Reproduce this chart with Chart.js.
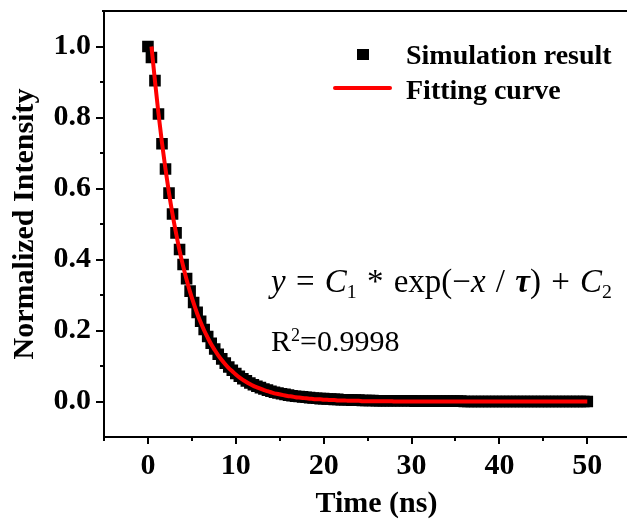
<!DOCTYPE html>
<html lang="en">
<head>
  <meta charset="UTF-8">
  <title>Decay fit</title>
  <script src="https://cdn.jsdelivr.net/npm/chart.js"></script>
  <style>
    body {
      margin: 0;
      padding: 0;
      background: #fff;
      overflow: hidden;
    }

    /* wider than the window on purpose: the plot frame runs off the right edge */
    .wrap {
      position: relative;
      width: 657px;
      height: 522px;
    }

    .serif {
      position: absolute;
      font-family: 'Liberation Serif', 'Times New Roman', serif;
      color: #000;
      white-space: pre;
      line-height: 1;
    }

    .legend-text {
      font-weight: bold;
      font-size: 28px;
    }

    .sub, .sup {
      position: relative;
      font-size: 0.6em;
      line-height: 0;
    }
    .sub { top: 0.3em; }
    .sup { top: -0.55em; }

    /* top edge of the plot frame */
    #frameTop {
      position: absolute;
      left: 102px;
      top: 10px;
      width: 555px;
      height: 2px;
      background: #000;
    }

    #legSquare {
      position: absolute;
      left: 357px;
      top: 49px;
      width: 12px;
      height: 11px;
      background: #000;
    }

    #legLine {
      position: absolute;
      left: 333px;
      top: 86px;
      width: 59px;
      height: 4px;
      border-radius: 2px;
      background: #ff0000;
    }
  </style>
</head>

<body>
  <div class="wrap">
    <canvas id="decayChart"></canvas>
    <div id="frameTop"></div>

    <!-- legend -->
    <div id="legSquare"></div>
    <div class="serif legend-text" style="left:406px; top:41px;">Simulation result</div>
    <div id="legLine"></div>
    <div class="serif legend-text" style="left:406px; top:76px;">Fitting curve</div>

    <!-- fit equation -->
    <div class="serif" style="left:271px; top:265px; font-size:33px; word-spacing:2px;"><i>y</i> = <i>C</i><span class="sub">1</span> * exp(−<i>x</i> / <b><i>τ</i></b>) + <i>C</i><span class="sub">2</span></div>
    <div class="serif" style="left:271px; top:326px; font-size:30px;">R<span class="sup">2</span>=0.9998</div>
  </div>

  <script>
    // time axis (ns), sampled every 0.4 ns
    const timeNs = [
      0, 0.4, 0.8, 1.2, 1.6, 2, 2.4, 2.8, 3.2, 3.6,
      4, 4.4, 4.8, 5.2, 5.6, 6, 6.4, 6.8, 7.2, 7.6,
      8, 8.4, 8.8, 9.2, 9.6, 10, 10.4, 10.8, 11.2, 11.6,
      12, 12.4, 12.8, 13.2, 13.6, 14, 14.4, 14.8, 15.2, 15.6,
      16, 16.4, 16.8, 17.2, 17.6, 18, 18.4, 18.8, 19.2, 19.6,
      20, 20.4, 20.8, 21.2, 21.6, 22, 22.4, 22.8, 23.2, 23.6,
      24, 24.4, 24.8, 25.2, 25.6, 26, 26.4, 26.8, 27.2, 27.6,
      28, 28.4, 28.8, 29.2, 29.6, 30, 30.4, 30.8, 31.2, 31.6,
      32, 32.4, 32.8, 33.2, 33.6, 34, 34.4, 34.8, 35.2, 35.6,
      36, 36.4, 36.8, 37.2, 37.6, 38, 38.4, 38.8, 39.2, 39.6,
      40, 40.4, 40.8, 41.2, 41.6, 42, 42.4, 42.8, 43.2, 43.6,
      44, 44.4, 44.8, 45.2, 45.6, 46, 46.4, 46.8, 47.2, 47.6,
      48, 48.4, 48.8, 49.2, 49.6, 50
    ];

    // simulation result (black squares)
    const simulation = [
      1.000, 0.969, 0.904, 0.810, 0.726, 0.655, 0.587, 0.528, 0.475, 0.428,
      0.386, 0.346, 0.311, 0.279, 0.251, 0.226, 0.203, 0.183, 0.164, 0.148,
      0.133, 0.120, 0.108, 0.097, 0.088, 0.079, 0.071, 0.064, 0.058, 0.052,
      0.047, 0.043, 0.039, 0.035, 0.032, 0.029, 0.026, 0.024, 0.022, 0.020,
      0.018, 0.016, 0.015, 0.014, 0.013, 0.012, 0.011, 0.010, 0.009, 0.008,
      0.008, 0.007, 0.007, 0.006, 0.006, 0.005, 0.005, 0.005, 0.004, 0.004,
      0.004, 0.003, 0.003, 0.003, 0.003, 0.002, 0.002, 0.002, 0.002, 0.002,
      0.002, 0.002, 0.002, 0.002, 0.002, 0.002, 0.001, 0.001, 0.001, 0.001,
      0.001, 0.001, 0.001, 0.001, 0.001, 0.001, 0.001, 0.001, 0.001, 0.001,
      0.000, 0.000, 0.000, 0.000, 0.000, 0.000, 0.000, 0.000, 0.000, 0.000,
      0.000, 0.000, 0.000, 0.000, 0.000, 0.000, 0.000, 0.000, 0.000, 0.000,
      0.000, 0.000, 0.000, 0.000, 0.000, 0.000, 0.000, 0.000, 0.000, 0.000,
      0.000, 0.000, 0.000, 0.000, 0.000, 0.000
    ];

    // fitting curve (red line), same time grid, starts at 0.4 ns
    const fitting = [
      null, 1.000, 0.903, 0.811, 0.728, 0.654, 0.587, 0.527, 0.474, 0.425,
      0.382, 0.343, 0.308, 0.277, 0.248, 0.223, 0.200, 0.180, 0.161, 0.145,
      0.130, 0.117, 0.105, 0.094, 0.085, 0.076, 0.068, 0.061, 0.055, 0.049,
      0.044, 0.040, 0.036, 0.032, 0.029, 0.026, 0.023, 0.021, 0.019, 0.017,
      0.015, 0.014, 0.012, 0.011, 0.010, 0.009, 0.008, 0.007, 0.006, 0.006,
      0.005, 0.005, 0.004, 0.004, 0.003, 0.003, 0.003, 0.002, 0.002, 0.002,
      0.002, 0.001, 0.001, 0.001, 0.001, 0.001, 0.001, 0.001, 0.001, 0.001,
      0.000, 0.000, 0.000, 0.000, 0.000, 0.000, 0.000, 0.000, 0.000, 0.000,
      0.000, 0.000, 0.000, 0.000, 0.000, 0.000, 0.000, 0.000, 0.000, 0.000,
      0.000, 0.000, 0.000, 0.000, 0.000, 0.000, 0.000, 0.000, 0.000, 0.000,
      0.000, 0.000, 0.000, 0.000, 0.000, 0.000, 0.000, 0.000, 0.000, 0.000,
      0.000, 0.000, 0.000, 0.000, 0.000, 0.000, 0.000, 0.000, 0.000, 0.000,
      0.000, 0.000, 0.000, 0.000, 0.000, 0.000
    ];

    // ticks: every position gets a mark, only some get a label
    const xTicks = [-5, 0, 5, 10, 15, 20, 25, 30, 35, 40, 45, 50, 55];
    const xLabels = [0, 10, 20, 30, 40, 50];
    const yTicks = [0, 0.1, 0.2, 0.3, 0.4, 0.5, 0.6, 0.7, 0.8, 0.9, 1.0];
    const yLabels = ['0.0', '0.2', '0.4', '0.6', '0.8', '1.0'];

    const serif = "'Liberation Serif', 'Times New Roman', serif";

    const simPoints = timeNs.map((t, i) => ({ x: t, y: simulation[i] }));
    const fitPoints = timeNs
      .map((t, i) => ({ x: t, y: fitting[i] }))
      .filter(p => p.y !== null);

    // outward tick marks: long for labelled ticks, short for minor ones
    const outerTicks = {
      id: 'outerTicks',
      afterDraw(chart) {
        const { ctx, scales } = chart;
        const xs = scales.x, ys = scales.y;
        const left = xs.getPixelForValue(xs.min);
        const bottom = ys.getPixelForValue(ys.min);
        ctx.save();
        ctx.strokeStyle = '#000';
        ctx.lineWidth = 2;

        xs.ticks.forEach(t => {
          const px = Math.round(xs.getPixelForValue(t.value));
          const len = xLabels.includes(t.value) ? 7 : 4;
          ctx.beginPath();
          ctx.moveTo(px, bottom);
          ctx.lineTo(px, bottom + len);
          ctx.stroke();
        });

        ys.ticks.forEach(t => {
          const py = Math.round(ys.getPixelForValue(t.value));
          const major = Math.round(t.value * 10) % 2 === 0;
          const len = major ? 8 : 4;
          ctx.beginPath();
          ctx.moveTo(left, py);
          ctx.lineTo(left - len, py);
          ctx.stroke();
        });
        ctx.restore();
      }
    };

    const ctx = document.getElementById('decayChart').getContext('2d');

    new Chart(ctx, {
      type: 'scatter',
      data: {
        datasets: [
          {
            label: 'Fitting curve',
            data: fitPoints,
            showLine: true,
            borderColor: '#ff0000',
            borderWidth: 4,
            pointRadius: 0,
            cubicInterpolationMode: 'monotone',
            order: 1
          },
          {
            label: 'Simulation result',
            data: simPoints,
            pointStyle: 'rect',
            pointRadius: 8.2,
            backgroundColor: '#000',
            borderColor: '#000',
            borderWidth: 0,
            order: 2
          }
        ]
      },
      options: {
        responsive: true,
        maintainAspectRatio: false,
        animation: false,
        layout: {
          padding: { top: 11, left: 0, right: 0, bottom: 0 }
        },
        plugins: {
          legend: { display: false },
          tooltip: { enabled: false }
        },
        scales: {
          x: {
            type: 'linear',
            min: -5,
            max: 57,
            afterBuildTicks: s => { s.ticks = xTicks.map(v => ({ value: v })); },
            afterFit: s => {
              s.height = 85;
              s.paddingLeft = 0;
              s.paddingRight = 0;
            },
            grid: { display: true, drawOnChartArea: false, drawTicks: false },
            border: { display: true, color: '#000', width: 2 },
            ticks: {
              autoSkip: false,
              maxRotation: 0,
              padding: 11,
              color: '#000',
              font: { family: serif, size: 30, weight: 'bold' },
              callback: v => xLabels.includes(v) ? String(v) : ''
            },
            title: {
              display: true,
              text: 'Time (ns)',
              color: '#000',
              font: { family: serif, size: 30, weight: 'bold', lineHeight: 1.2 },
              padding: { top: 0, bottom: 0 }
            }
          },
          y: {
            type: 'linear',
            min: -0.1,
            max: 1.1,
            afterBuildTicks: s => { s.ticks = yTicks.map(v => ({ value: v })); },
            afterFit: s => {
              s.width = 104;
              s.paddingTop = 0;
              s.paddingBottom = 0;
            },
            grid: { display: true, drawOnChartArea: false, drawTicks: false },
            border: { display: true, color: '#000', width: 2 },
            ticks: {
              autoSkip: false,
              padding: 13,
              color: '#000',
              font: { family: serif, size: 30, weight: 'bold' },
              callback: v => {
                const k = Math.round(v * 10);
                return k % 2 === 0 ? yLabels[k / 2] : '';
              }
            },
            title: {
              display: true,
              text: 'Normalized Intensity',
              color: '#000',
              font: { family: serif, size: 30, weight: 'bold', lineHeight: 1.2 },
              padding: { top: 7, bottom: 0 }
            }
          }
        }
      },
      plugins: [outerTicks]
    });
  </script>
</body>
</html>
